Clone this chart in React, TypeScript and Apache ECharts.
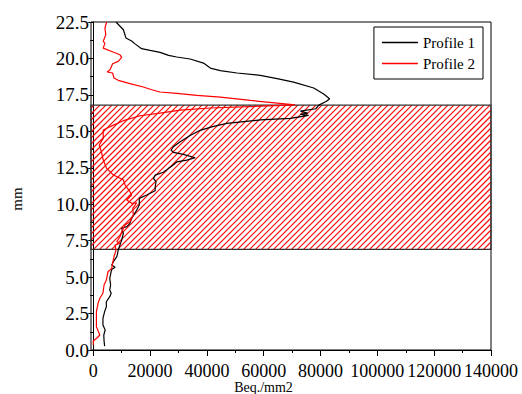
import React, { useEffect, useRef } from "react";
import * as echarts from "echarts";

// Profile 1 (black): [Beq./mm2, mm]
const profile1: [number, number][] = [
  [8000, 22.5], [10600, 21.97], [11500, 21.4], [13500, 21.2], [14700, 21.0], [17000, 20.67],
  [20000, 20.55], [23500, 20.42], [26500, 20.21], [29400, 20.1], [34100, 19.96], [38800, 19.68],
  [41200, 19.34], [44700, 19.16], [50600, 19.0], [58800, 18.84], [64700, 18.61], [70500, 18.38],
  [77600, 17.97], [81100, 17.56], [83200, 17.24], [82100, 17.06], [79400, 16.8], [78300, 16.55],
  [72900, 16.38], [75500, 16.25], [72900, 16.16], [75800, 16.1], [69400, 15.89], [58800, 15.78],
  [47000, 15.55], [42000, 15.32], [37600, 15.07], [34100, 14.72], [30600, 14.28], [28200, 13.94],
  [27400, 13.7], [28200, 13.56], [31700, 13.42], [35900, 13.19], [32900, 13.03], [29400, 12.9],
  [27600, 12.6], [26500, 12.46], [24700, 12.19], [21800, 12.0], [21200, 11.78], [22100, 11.54],
  [21800, 11.2], [21800, 10.92], [18800, 10.63], [16200, 10.4], [16200, 9.95], [15300, 9.6],
  [13500, 9.03], [12900, 8.69], [11800, 8.46], [10000, 8.35], [10600, 8.0], [10000, 7.54],
  [9400, 7.2], [8800, 6.86], [8300, 6.4], [7100, 6.06], [6500, 5.83], [7700, 5.67], [6500, 5.53],
  [6300, 5.37], [5800, 4.92], [6100, 4.46], [5800, 4.12], [6300, 3.89], [5800, 3.66], [4600, 3.31],
  [4600, 2.97], [4000, 2.63], [3400, 2.17], [3400, 1.71], [4200, 1.37], [3700, 1.03], [3800, 0.62],
  [4000, 0.27],
];

// Profile 2 (red): [Beq./mm2, mm]
const profile2: [number, number][] = [
  [4700, 22.5], [4100, 22.08], [4400, 21.63], [3500, 21.17], [4100, 21.05], [3500, 20.71],
  [6500, 20.48], [9400, 20.25], [10000, 20.07], [8800, 19.8], [6800, 19.64], [5900, 19.23],
  [4900, 19.07], [6800, 19.0], [7300, 18.66], [8800, 18.5], [12900, 18.27], [17600, 18.04],
  [20600, 17.85], [23500, 17.7], [29400, 17.6], [36500, 17.47], [44700, 17.35], [55300, 17.12],
  [71100, 16.82], [41200, 16.6], [30600, 16.46], [23500, 16.25], [16500, 16.07], [10600, 15.73],
  [5900, 15.32], [3500, 15.09], [3500, 14.52], [2100, 14.06], [3000, 13.49], [3500, 13.03],
  [4700, 12.46], [7100, 12.0], [10600, 11.66], [11200, 11.32], [12900, 10.86], [13500, 10.63],
  [11800, 10.29], [13500, 10.06], [15300, 10.1], [13900, 9.72], [14100, 9.26], [12900, 8.8],
  [11200, 8.57], [10000, 8.11], [9400, 7.77], [8300, 7.43], [9400, 7.32], [7700, 7.2],
  [8000, 6.86], [7300, 6.4], [6800, 5.95], [6500, 5.6], [5200, 5.37], [4600, 4.8], [3800, 4.46],
  [3400, 3.89], [2300, 3.55], [1700, 3.2], [1100, 2.63], [1100, 2.06], [1100, 1.6], [2300, 1.03],
  [1400, 0.84], [0, 0.62], [0, 0.34],
];

// Hatched band (mm): [bottom, top]
const bandRange: [number, number] = [6.9, 16.8];

const xMajorTicks = [0, 20000, 40000, 60000, 80000, 100000, 120000, 140000];
const xMinorTicks = [10000, 30000, 50000, 70000, 90000, 110000, 130000];
const seriesNames = ["Profile 1", "Profile 2"];
const xName = "Beq./mm2";
const yName = "mm";

const FONT = "Liberation Serif";

export default function App() {
  const ref = useRef<HTMLDivElement>(null);
  useEffect(() => {
    if (!ref.current) return;
    const chart = echarts.init(ref.current, null, { renderer: "svg" });

    const axisLineStyle = { color: "#000", width: 1 };

    const renderHatch = (params: any, api: any) => {
      const cs = params.coordSys;
      const x0 = cs.x;
      const x1 = cs.x + cs.width;
      const yTop = api.coord([0, api.value(1)])[1];
      const yBot = api.coord([0, api.value(0)])[1];
      const step = 6;
      const children: any[] = [];
      const cStart = Math.ceil(x0 + yTop) + 2;
      for (let c = cStart; c < x1 + yBot; c += step) {
        const sx = Math.max(x0, c - yBot);
        const ex = Math.min(x1, c - yTop);
        if (ex <= sx) continue;
        children.push({
          type: "line",
          shape: { x1: sx, y1: c - sx, x2: ex, y2: c - ex },
          style: { stroke: "#ff0000", lineWidth: 1.1 },
          silent: true,
        });
      }
      children.push({
        type: "rect",
        shape: { x: x0, y: yTop, width: x1 - x0, height: yBot - yTop },
        style: { fill: "none", stroke: "#333", lineWidth: 1.2 },
        silent: true,
      });
      return { type: "group", children };
    };

    chart.setOption({
      animation: false,
      backgroundColor: "#fff",
      grid: {
        left: 91,
        right: 31,
        top: 22,
        bottom: 44,
        outerBoundsMode: "none",
        containLabel: false,
        show: true,
        borderColor: "#000",
        borderWidth: 1,
        backgroundColor: "transparent",
      },
      graphic: [
        {
          type: "text",
          x: 17,
          y: 199,
          rotation: Math.PI / 2,
          style: {
            text: yName,
            fontFamily: FONT,
            fontSize: 15,
            fill: "#000",
            align: "center",
            verticalAlign: "middle",
          },
        },
        {
          type: "text",
          x: 263.5,
          y: 387.5,
          style: {
            text: xName,
            fontFamily: FONT,
            fontSize: 14,
            fill: "#000",
            align: "center",
            verticalAlign: "middle",
          },
        },
      ],
      legend: {
        data: seriesNames,
        orient: "vertical",
        right: 39,
        top: 27,
        borderColor: "#000",
        borderWidth: 1,
        padding: [8, 8, 8, 8],
        itemGap: 6,
        itemWidth: 36,
        itemHeight: 1.5,
        icon: "rect",
        textStyle: { fontFamily: FONT, fontSize: 15, color: "#000", lineHeight: 15 },
      },
      xAxis: [
        {
          type: "value",
          min: -800,
          max: 140000,
          axisLine: { show: true, lineStyle: axisLineStyle },
          axisTick: { show: true, length: 6, customValues: xMajorTicks, lineStyle: axisLineStyle },
          axisLabel: {
            customValues: xMajorTicks,
            fontFamily: FONT,
            fontSize: 18,
            color: "#000",
            margin: 12,
            lineHeight: 18,
            showMaxLabel: true,
            hideOverlap: false,
            formatter: (v: number) => String(v),
          },
          splitLine: { show: false },
        },
        {
          type: "value",
          min: -800,
          max: 140000,
          position: "bottom",
          axisLine: { show: false },
          axisTick: { show: true, length: 3, customValues: xMinorTicks, lineStyle: axisLineStyle },
          axisLabel: { show: false },
          splitLine: { show: false },
        },
      ],
      yAxis: {
        type: "value",
        min: 0,
        max: 22.5,
        interval: 2.5,
        axisLine: { show: true, lineStyle: axisLineStyle },
        axisTick: { show: true, length: 5, lineStyle: axisLineStyle },
        minorTick: { show: true, splitNumber: 2, length: 3, lineStyle: axisLineStyle },
        axisLabel: {
          fontFamily: FONT,
          fontSize: 19,
          color: "#000",
          margin: 2,
          formatter: (v: number) => v.toFixed(1),
        },
        splitLine: { show: false },
      },
      series: [
        {
          type: "custom",
          renderItem: renderHatch,
          data: [bandRange],
          silent: true,
          z: 1,
        },
        {
          name: seriesNames[0],
          type: "line",
          data: profile1,
          symbol: "none",
          color: "#000",
          lineStyle: { color: "#000", width: 1.2 },
          z: 3,
        },
        {
          name: seriesNames[1],
          type: "line",
          data: profile2,
          symbol: "none",
          color: "#ff0000",
          lineStyle: { color: "#ff0000", width: 1.2 },
          z: 4,
        },
      ],
    });
    return () => chart.dispose();
  }, []);
  return (
    <div
      ref={ref}
      style={{ position: "fixed", left: 0, top: 0, width: 522, height: 394 }}
    />
  );
}
